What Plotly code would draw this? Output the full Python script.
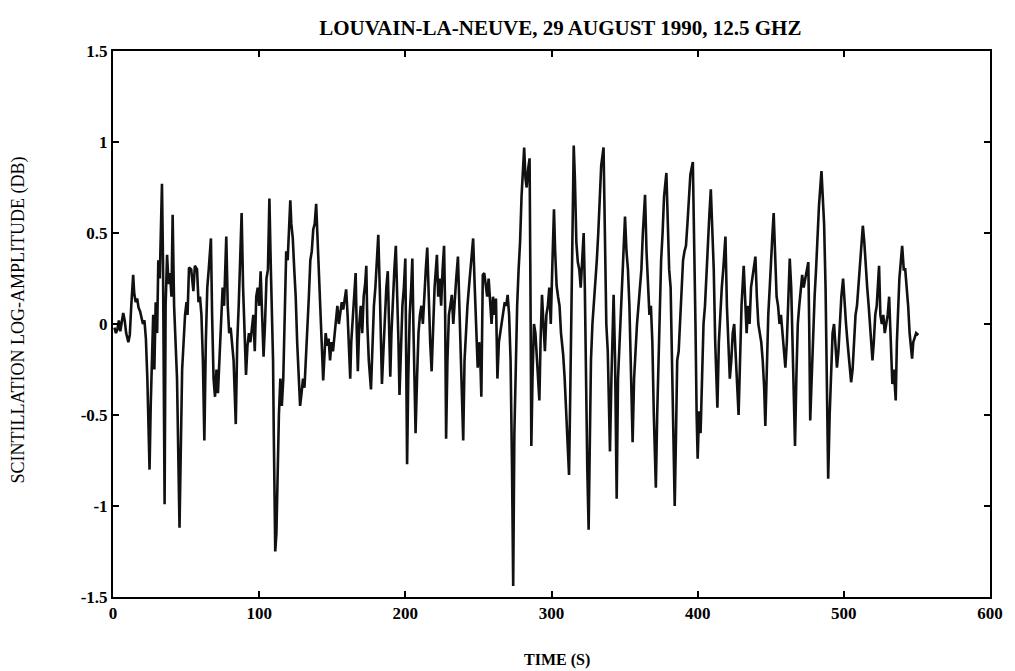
import plotly.graph_objects as go

# Time (s) and scintillation log-amplitude (dB)
time_s = [1,2,3,4,5,6,7,8,9,10.5,11.5,12.5,13.8,14.5,15.5,16.5,17.5,18.5,19.5,20.5,21.5,22.5,23.5,25,25.8,26.5,27.5,28.3,29.2,30.2,31,32,33.5,34.2,35.3,36,37,38,39,40,40.8,41.8,42.8,43.8,45.5,46.3,47.3,48.3,49.3,50.3,51,52,53.5,55,56,57.5,58.5,59.5,60.5,61.5,62.5,63.5,64.5,65.5,67,67.8,68.8,69.8,70.8,71.8,72.8,73.8,75,76,77.5,78.5,79.5,80.5,81.5,82.5,84,85,86,87,88,89,90,91,92,93,94,95,96,97,98,99,100,101,102,103,104,105,106,107,108,108.8,109.5,110,111,111.8,112.5,113.5,114.5,115.5,116.5,117.5,118.5,119.5,120.5,121.3,122,123,124,125,126,127,128,129,130,131,132,133,134,135,136,137,138,139,140,141,142,143,143.8,144.5,145.5,146.5,147.5,148.5,149.5,150.5,151.5,152.5,153.5,154.5,155.5,156.5,157.5,158.5,159.5,160.5,161.5,162.3,163,164,165,166,166.8,167.5,168.5,169.5,170.5,171.5,172.5,173.3,174,175,176.5,177.5,178.5,179.5,180.5,181.5,182.5,183.3,184,185,186,187,188,189,189.7,190.5,191.5,192.5,193.5,194.5,195.3,196,197,198,199,200,200.6,201.2,202,203,204,204.8,205.5,206.3,207,208,209,210,211,212,213,214,215,216,217,218,219,220,221.6,222.5,223.5,224.5,225.5,226.5,227.2,227.9,228.8,229.8,230.8,231.8,232.8,233.8,234.8,236,237,238,239.6,240.5,241.5,242.5,243.5,244.5,245.5,246.4,247.5,248.5,249.5,250.5,251.3,252,253,254,255,256,257,258,259,260,261,262,263,264,265,266,267,268,269,270,271,272,273,273.8,274.6,275.5,276.5,277.5,278.5,279.5,280.5,281.3,282.2,283,284,285,285.6,286.2,287,288,289,290,291.7,292.5,293.5,294.5,295.5,296.5,297.5,298.5,299.5,300.5,301.7,302.5,303.5,304.5,305.5,306.5,308,309,310,311,312,312.8,313.5,314.3,315.2,316,317,318,319,320,321,322,322.8,323.5,324.5,325.4,326.2,327,328,329,330,331,332,333,334,335.6,336.5,337.5,338.5,339.3,340,341,342.5,343.5,344.6,345.5,346.5,347.5,348.5,349.5,350.3,351.3,352.3,353.3,354.3,355.5,356.5,357.5,358.5,359.5,360.5,361.5,362.5,364,365,366,367,368,369,370,371.4,372.3,373.2,374,375,376,377,378.6,379.5,380.5,381.5,382.5,383.5,384.3,385.2,386,387,388,389,390,391,392,393,394,395,396.7,397.7,398.5,399.3,400,401,402,403,404,405,406,407,408,409,410,411,412,413.5,414.5,415.5,416.5,417.5,419,420,421,422,423,424,425,426,427,428,429,430,431.5,432.5,433.5,434.5,435.5,436.5,437.5,438.5,439.5,440.5,441.5,442.5,443.5,444.5,445.5,446.3,447.3,448.3,449.3,450.3,451.2,452,453,454,455,456,457,458,459,460,461,462,463,464,465,466.6,467.5,468.5,469.5,470.5,471.5,472.5,473.5,474.5,475.7,476.3,477,478,479,480,481,482,483,484.7,485.5,486.5,487.5,488.3,489.3,490.3,491.3,492.3,493.3,494.3,495.3,496.3,497.3,498.3,499.5,500.5,501.5,502.5,503.5,505,506,507,508,509,510,511,512,513,514,515,516,517,518,519.6,520.5,521.5,522.5,523.3,524.1,525,526,527,528,529,530,531,532,533.2,534.2,535.5,536.3,537,538,539.9,541,542,543,544,545,546.7,547.5,548.5,549.5,551]

log_amp_db = [-0.02,-0.05,-0.03,0.02,-0.04,0.0,0.06,0.02,-0.05,-0.1,-0.06,0.1,0.27,0.17,0.12,0.14,0.09,0.07,0.04,0.0,0.02,-0.08,-0.3,-0.8,-0.45,-0.2,0.05,-0.25,0.12,-0.05,0.35,0.25,0.77,0.35,-0.99,0.1,0.38,0.22,0.28,0.15,0.6,0.1,-0.1,-0.3,-1.12,-0.6,-0.25,-0.1,0.05,0.12,0.05,0.31,0.3,0.18,0.32,0.3,0.12,0.15,0.05,-0.2,-0.64,-0.1,0.2,0.3,0.47,0.05,-0.3,-0.4,-0.25,-0.38,-0.2,-0.05,0.2,0.1,0.48,0.1,-0.05,-0.02,-0.1,-0.2,-0.55,-0.1,0.1,0.35,0.61,0.2,-0.05,-0.28,-0.12,-0.05,-0.1,0.0,0.05,-0.15,0.15,0.2,0.1,0.29,0.05,-0.18,0.0,0.25,0.3,0.69,0.3,0.0,-0.2,-0.6,-1.25,-1.15,-0.8,-0.5,-0.3,-0.45,-0.3,0.1,0.4,0.35,0.6,0.68,0.55,0.47,0.3,0.15,-0.1,-0.3,-0.45,-0.38,-0.3,-0.35,-0.2,0.0,0.15,0.35,0.4,0.52,0.55,0.66,0.45,0.2,0.0,-0.15,-0.31,-0.2,-0.05,-0.12,-0.08,-0.2,-0.1,-0.15,-0.05,0.05,0.1,0.0,0.08,0.12,0.08,0.15,0.19,0.05,-0.15,-0.3,-0.1,0.05,0.15,0.28,-0.05,-0.26,0.0,0.1,-0.05,0.15,0.22,0.32,0.0,-0.2,-0.36,-0.1,0.1,0.2,0.35,0.49,0.2,-0.1,-0.33,-0.15,0.05,0.2,0.29,0.0,-0.29,-0.05,0.15,0.3,0.43,0.2,-0.1,-0.39,-0.15,0.1,0.2,0.36,-0.2,-0.77,-0.3,0.05,0.2,0.36,0.0,-0.3,-0.6,-0.3,-0.05,0.05,0.1,0.0,0.2,0.3,0.42,0.1,-0.1,-0.26,0.0,0.2,0.38,0.15,0.25,0.1,0.3,0.43,0.1,-0.63,-0.2,0.05,0.1,0.16,0.0,0.15,0.25,0.37,0.1,-0.3,-0.64,-0.2,0.0,0.1,0.2,0.3,0.35,0.47,0.2,0.0,-0.24,-0.1,-0.2,-0.4,0.27,0.28,0.2,0.15,0.25,0.1,0.0,0.15,0.05,0.14,-0.3,-0.1,-0.05,0.0,0.05,0.12,0.1,0.16,0.05,-0.2,-0.8,-1.44,-0.6,-0.2,0.1,0.3,0.45,0.7,0.9,0.97,0.8,0.75,0.85,0.91,0.2,-0.67,-0.3,0.0,-0.05,-0.2,-0.42,-0.1,0.16,0.0,-0.15,0.05,0.1,0.2,0.0,0.3,0.63,0.4,0.21,0.15,0.1,-0.05,-0.17,-0.3,-0.5,-0.65,-0.83,-0.4,0.1,0.6,0.98,0.8,0.45,0.34,0.3,0.2,0.4,0.5,0.2,-0.3,-0.8,-1.13,-0.6,-0.2,0.0,0.1,0.2,0.35,0.5,0.7,0.87,0.97,0.5,0.0,-0.15,-0.4,-0.7,-0.3,0.16,-0.2,-0.96,-0.3,-0.1,0.1,0.3,0.45,0.59,0.4,0.3,0.1,-0.2,-0.65,-0.3,-0.1,0.0,0.1,0.2,0.3,0.5,0.71,0.4,0.2,0.05,0.1,-0.1,-0.5,-0.9,-0.5,-0.2,0.1,0.35,0.5,0.7,0.83,0.5,0.3,0.2,-0.2,-0.7,-1.0,-0.6,-0.2,-0.15,0.0,0.2,0.35,0.4,0.43,0.55,0.7,0.82,0.89,0.5,0.0,-0.5,-0.74,-0.48,-0.6,-0.3,0.0,0.1,0.3,0.5,0.6,0.74,0.5,0.3,-0.1,-0.46,-0.1,0.1,0.2,0.3,0.48,0.1,-0.1,-0.3,-0.2,-0.05,0.0,-0.2,-0.35,-0.5,-0.2,0.1,0.32,0.1,-0.05,0.1,0.0,0.2,0.25,0.3,0.37,0.15,0.0,-0.05,-0.1,-0.2,-0.35,-0.56,-0.2,0.05,0.2,0.4,0.5,0.61,0.3,0.15,0.1,0.0,0.05,-0.05,-0.15,-0.24,-0.1,0.2,0.36,0.2,-0.2,-0.67,-0.3,0.0,0.1,0.2,0.27,0.2,0.25,0.3,0.34,0.0,-0.53,-0.3,0.0,0.15,0.3,0.5,0.65,0.84,0.7,0.55,0.2,-0.3,-0.85,-0.5,-0.2,-0.05,0.0,-0.1,-0.24,-0.15,0.0,0.15,0.25,0.1,0.0,-0.1,-0.2,-0.32,-0.25,-0.1,0.05,0.1,0.2,0.3,0.4,0.54,0.45,0.3,0.2,0.1,0.0,-0.2,-0.1,0.05,0.1,0.2,0.32,0.05,0.0,0.05,-0.05,0.0,0.05,0.15,-0.1,-0.33,-0.25,-0.42,-0.1,0.1,0.25,0.43,0.3,0.3,0.2,0.1,-0.05,-0.19,-0.1,-0.08,-0.05,-0.06]

x_ticks = [0, 100, 200, 300, 400, 500, 600]
y_ticks = [-1.5, -1, -0.5, 0, 0.5, 1, 1.5]
y_tick_text = ["-1.5", "-1", "-0.5", "0", "0.5", "1", "1.5"]

FONT = "Liberation Serif, Times New Roman, serif"

fig = go.Figure()
fig.add_trace(go.Scatter(x=time_s, y=log_amp_db, mode="lines",
                         line=dict(color="#111111", width=2.6),
                         showlegend=False))

axis_common = dict(showgrid=False, zeroline=False, showline=True,
                   linecolor="black", linewidth=2, mirror="ticks",
                   ticks="inside", ticklen=6, tickwidth=1.5, tickcolor="black",
                   tickfont=dict(family=FONT, size=17, color="black",
                                 weight="bold"))

fig.update_xaxes(range=[0, 600], tickvals=x_ticks, **axis_common)
fig.update_yaxes(range=[-1.5, 1.5], tickvals=y_ticks, ticktext=y_tick_text,
                 **axis_common)

fig.update_layout(
    width=1015, height=671,
    margin=dict(l=113, r=18, t=51, b=74),
    paper_bgcolor="white", plot_bgcolor="white",
    title=dict(text="LOUVAIN-LA-NEUVE, 29 AUGUST 1990, 12.5 GHZ",
               x=0.552, xanchor="center", y=1 - 28 / 671, yanchor="middle",
               yref="container",
               font=dict(family=FONT, size=21, color="black", weight="bold")),
    annotations=[
        dict(text="TIME (S)", xref="paper", yref="paper", x=0.506, y=-0.115,
             xanchor="center", yanchor="middle", showarrow=False,
             font=dict(family=FONT, size=16, color="black", weight="bold")),
        dict(text="SCINTILLATION LOG-AMPLITUDE (DB)", xref="paper", yref="paper",
             x=-0.108, y=0.507, xanchor="center", yanchor="middle",
             textangle=-90, showarrow=False,
             font=dict(family=FONT, size=18, color="black")),
    ],
)

fig.write_html("out.html")
